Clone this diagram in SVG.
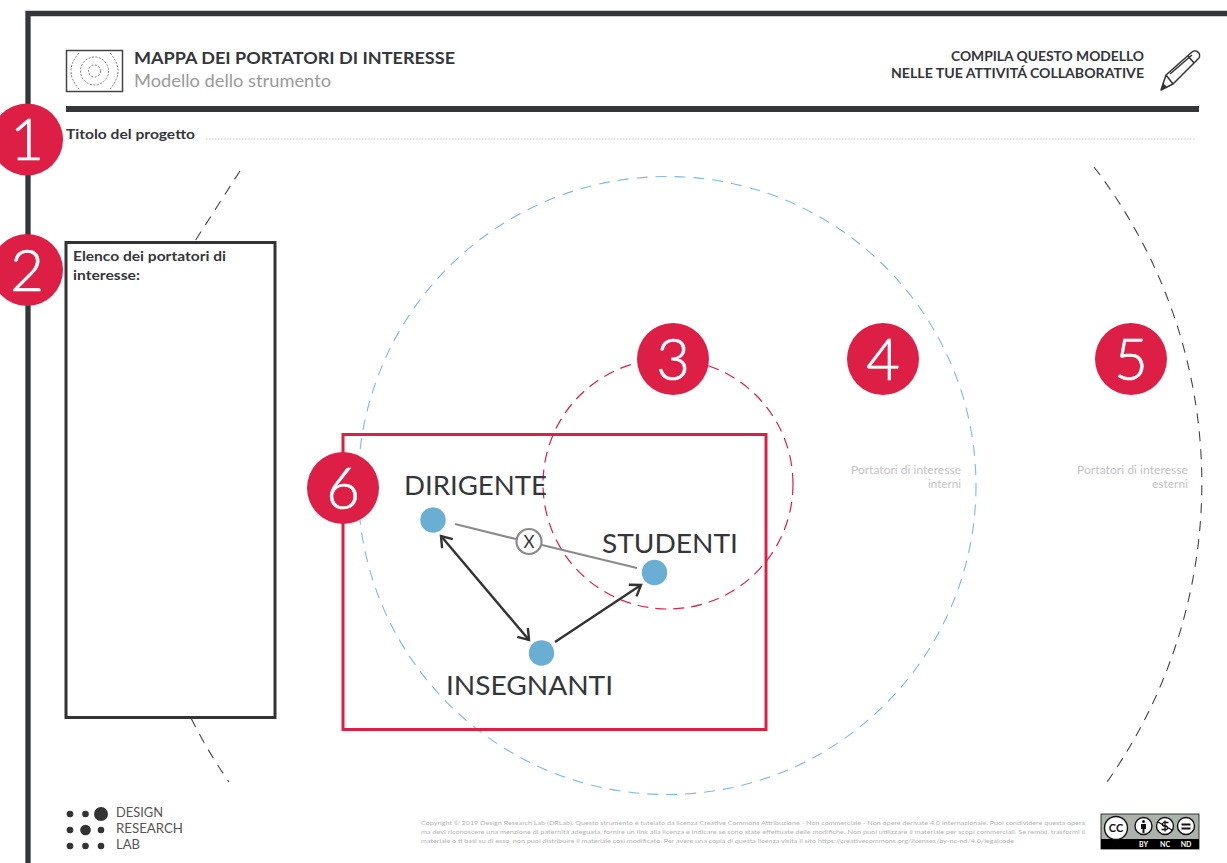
<svg xmlns="http://www.w3.org/2000/svg" width="1227" height="863" viewBox="0 0 1227 863">
<style>
text{font-family:"Lato","Liberation Sans",sans-serif;fill:#33363a}
.b{font-weight:700}
.num{font-size:58px;fill:#fff;stroke:#fff;stroke-width:.7;text-anchor:middle;font-weight:300}
.big{font-size:27.5px}
.side{font-size:11.500px;fill:#c4c4c4;text-anchor:end}
.copy{font-size:6px;fill:#b4b4b4}
.dash{fill:none;stroke:#444;stroke-width:1.100;stroke-dasharray:10 8}
.badge{fill:#dd1e45}
.node{fill:#6aaed3}
.arr{stroke:#333;stroke-width:2.400;fill:none}
.dot{fill:#333}
.cc{fill:#fff;stroke:#111;stroke-width:1.400}
.cct{font-size:7px;font-weight:700;fill:#fff;text-anchor:middle}
</style>
<defs>
<marker id="open" markerWidth="16" markerHeight="16" refX="13" refY="8" orient="auto-start-reverse" markerUnits="userSpaceOnUse">
<path d="M3 1L13 8L3 15" fill="none" stroke="#333" stroke-width="2.400"/>
</marker>
</defs>
<g id="frame">
<path d="M28 863V13.500H1227" fill="none" stroke="#33363a" stroke-width="5.300"/>
<rect x="66" y="106" width="1133" height="6" fill="#33363a"/>
<line x1="206" y1="139" x2="1196" y2="139" stroke="#c4c4c4" stroke-width="1" stroke-dasharray="1.500 1.500"/>
</g>
<g id="header">
<rect x="66.500" y="50.500" width="56" height="41" fill="#fff" stroke="#444" stroke-width="1.500"/>
<g fill="none" stroke="#555" stroke-width=".8" stroke-dasharray="2 1.500">
<circle cx="94.500" cy="71" r="6"/><circle cx="94.500" cy="71" r="14"/>
<path d="M79 53Q63 71 79 89M110 53Q126 71 110 89"/>
</g>
<text class="b" x="134" y="64" font-size="17" textLength="321" lengthAdjust="spacingAndGlyphs">MAPPA DEI PORTATORI DI INTERESSE</text>
<text x="134" y="87" font-size="16.500" style="fill:#9a9a9a" textLength="197" lengthAdjust="spacingAndGlyphs">Modello dello strumento</text>
<text class="b" x="1144" y="61" font-size="13" text-anchor="end" textLength="193" lengthAdjust="spacingAndGlyphs">COMPILA QUESTO MODELLO</text>
<text class="b" x="1144" y="78" font-size="13" text-anchor="end" textLength="253" lengthAdjust="spacingAndGlyphs">NELLE TUE ATTIVITÁ COLLABORATIVE</text>
<g fill="none" stroke="#333" stroke-width="1.500" stroke-linejoin="round">
<path d="M1161 90L1166 75L1192 52A4 4 0 0 1 1198 59L1173 84Z"/>
<path d="M1166 75L1173 84M1188 56L1194 63M1170 74L1192 55"/>
</g>
<path d="M1161 90L1163 83L1167 87Z" fill="#333"/>
</g>
<g id="project-title">
<text class="b" x="66" y="139" font-size="14" textLength="129" lengthAdjust="spacingAndGlyphs">Titolo del progetto</text>
</g>
<g id="rings">
<circle cx="667" cy="485.500" r="309" fill="none" stroke="#7fb9dc" stroke-width="1.100" stroke-dasharray="11 8"/>
<circle cx="668" cy="484" r="125" fill="none" stroke="#dd1e45" stroke-width="1.200" stroke-dasharray="11 7"/>
<path class="dash" d="M1094 167A534 525 0 0 1 1107 782"/>
<path class="dash" d="M240 171L195 241"/>
<path class="dash" d="M191 718Q208 752 229 782"/>
</g>
<g id="list-box">
<rect x="66" y="242.500" width="209" height="475" fill="#fff" stroke="#333" stroke-width="3"/>
<text class="b" x="73" y="261" font-size="14" textLength="153" lengthAdjust="spacingAndGlyphs">Elenco dei portatori di</text>
<text class="b" x="73" y="280" font-size="14" textLength="67" lengthAdjust="spacingAndGlyphs">interesse:</text>
</g>
<g id="example-box">
<rect x="343" y="434.500" width="423" height="295" fill="none" stroke="#dd1e45" stroke-width="3"/>
</g>
<g id="side-labels">
<text class="side" x="961" y="474" textLength="110" lengthAdjust="spacingAndGlyphs">Portatori di interesse</text>
<text class="side" x="961" y="488" textLength="33" lengthAdjust="spacingAndGlyphs">interni</text>
<text class="side" x="1188" y="474" textLength="111" lengthAdjust="spacingAndGlyphs">Portatori di interesse</text>
<text class="side" x="1188" y="488" textLength="36" lengthAdjust="spacingAndGlyphs">esterni</text>
</g>
<g id="connectors">
<line x1="455" y1="524" x2="516" y2="539" stroke="#8a8a8a" stroke-width="2.200"/>
<line x1="542" y1="545" x2="637" y2="568" stroke="#8a8a8a" stroke-width="2.200"/>
<line class="arr" x1="441" y1="536" x2="529" y2="640" marker-start="url(#open)" marker-end="url(#open)"/>
<line class="arr" x1="555" y1="642" x2="641" y2="585" marker-end="url(#open)"/>
</g>
<g id="x-mark">
<circle cx="529" cy="541.500" r="12.500" fill="#fff" stroke="#8a8a8a" stroke-width="2.200"/>
<text x="529" y="547.500" font-size="17" text-anchor="middle">X</text>
</g>
<g id="node-dirigente"><circle class="node" cx="433" cy="520" r="12.700"/><text class="big" x="404" y="495" textLength="143" lengthAdjust="spacingAndGlyphs">DIRIGENTE</text></g>
<g id="node-studenti"><circle class="node" cx="654.500" cy="572.500" r="12.700"/><text class="big" x="602" y="553" textLength="136" lengthAdjust="spacingAndGlyphs">STUDENTI</text></g>
<g id="node-insegnanti"><circle class="node" cx="541.500" cy="653" r="12.700"/><text class="big" x="446" y="695" textLength="167" lengthAdjust="spacingAndGlyphs">INSEGNANTI</text></g>
<g id="badge-1"><circle class="badge" cx="27" cy="139.500" r="36"/><text class="num" x="27" y="160">1</text></g>
<g id="badge-2"><circle class="badge" cx="27" cy="270" r="36"/><text class="num" x="27" y="291">2</text></g>
<g id="badge-3"><circle class="badge" cx="673" cy="359" r="36"/><text class="num" x="673" y="380">3</text></g>
<g id="badge-4"><circle class="badge" cx="883" cy="359" r="36"/><text class="num" x="883" y="380">4</text></g>
<g id="badge-5"><circle class="badge" cx="1131" cy="359" r="36"/><text class="num" x="1131" y="380">5</text></g>
<g id="badge-6"><circle class="badge" cx="343" cy="488" r="36"/><text class="num" x="343" y="509">6</text></g>
<g id="logo">
<circle class="dot" cx="70" cy="814" r="3.300"/><circle class="dot" cx="85.500" cy="814" r="3.300"/><circle class="dot" cx="101" cy="814" r="7"/>
<circle class="dot" cx="70" cy="830" r="3.300"/><circle class="dot" cx="85.500" cy="830" r="5.300"/><circle class="dot" cx="101" cy="830" r="3.300"/>
<circle class="dot" cx="70" cy="846" r="3.300"/><circle class="dot" cx="85.500" cy="846" r="3.300"/><circle class="dot" cx="101" cy="846" r="3.300"/>
<text x="116" y="816.500" font-size="12.500" style="fill:#555" textLength="47" lengthAdjust="spacingAndGlyphs">DESIGN</text>
<text x="116" y="832.500" font-size="12.500" style="fill:#555" textLength="67" lengthAdjust="spacingAndGlyphs">RESEARCH</text>
<text x="116" y="849" font-size="12.500" style="fill:#555" textLength="24" lengthAdjust="spacingAndGlyphs">LAB</text>
</g>
<g id="copyright">
<text class="copy" x="421" y="825" textLength="664" lengthAdjust="spacingAndGlyphs">Copyright © 2019 Design Research Lab (DRLab). Questo strumento è tutelato da licenza Creative Commons Attribuzione - Non commerciale - Non opere derivate 4.0 Internazionale. Puoi condividere questa opera</text>
<text class="copy" x="421" y="834" textLength="664" lengthAdjust="spacingAndGlyphs">ma devi riconoscere una menzione di paternità adeguata, fornire un link alla licenza e indicare se sono state effettuate delle modifiche. Non puoi utilizzare il materiale per scopi commerciali. Se remixi, trasformi il</text>
<text class="copy" x="421" y="842.500" textLength="593" lengthAdjust="spacingAndGlyphs">materiale o ti basi su di esso, non puoi distribuire il materiale così modificato. Per avere una copia di questa licenza visita il sito https://creativecommons.org/licenses/by-nc-nd/4.0/legalcode</text>
</g>
<g id="cc-badge">
<rect x="1101" y="814" width="98" height="35" fill="#aab2ab" stroke="#111" stroke-width=".8"/>
<rect x="1101" y="839" width="98" height="10" fill="#000"/>
<circle class="cc" cx="1116" cy="828" r="11.500" stroke-width="2.500"/>
<text x="1116" y="832" font-size="11" font-weight="700" text-anchor="middle" style="fill:#111">CC</text>
<circle class="cc" cx="1143.500" cy="826" r="8.500"/>
<circle cx="1143.500" cy="821.500" r="1.500" fill="#111"/><path d="M1141 824h5v5h-1.500v4h-2v-4H1141Z" fill="#111"/>
<circle class="cc" cx="1165" cy="826" r="8.500"/>
<path d="M1168.500 822.500H1163.500Q1161 824.500 1163.500 826H1166.500Q1169 828 1166.500 829.500H1161.500M1165 820.500V831.500M1158 822L1172 830" fill="none" stroke="#111" stroke-width="1.300"/>
<circle class="cc" cx="1186" cy="826" r="8.500"/>
<path d="M1181.500 823.500h9v2h-9ZM1181.500 827.500h9v2h-9Z" fill="#111"/>
<text class="cct" x="1143.500" y="847">BY</text>
<text class="cct" x="1165" y="847">NC</text>
<text class="cct" x="1186" y="847">ND</text>
</g>
</svg>
